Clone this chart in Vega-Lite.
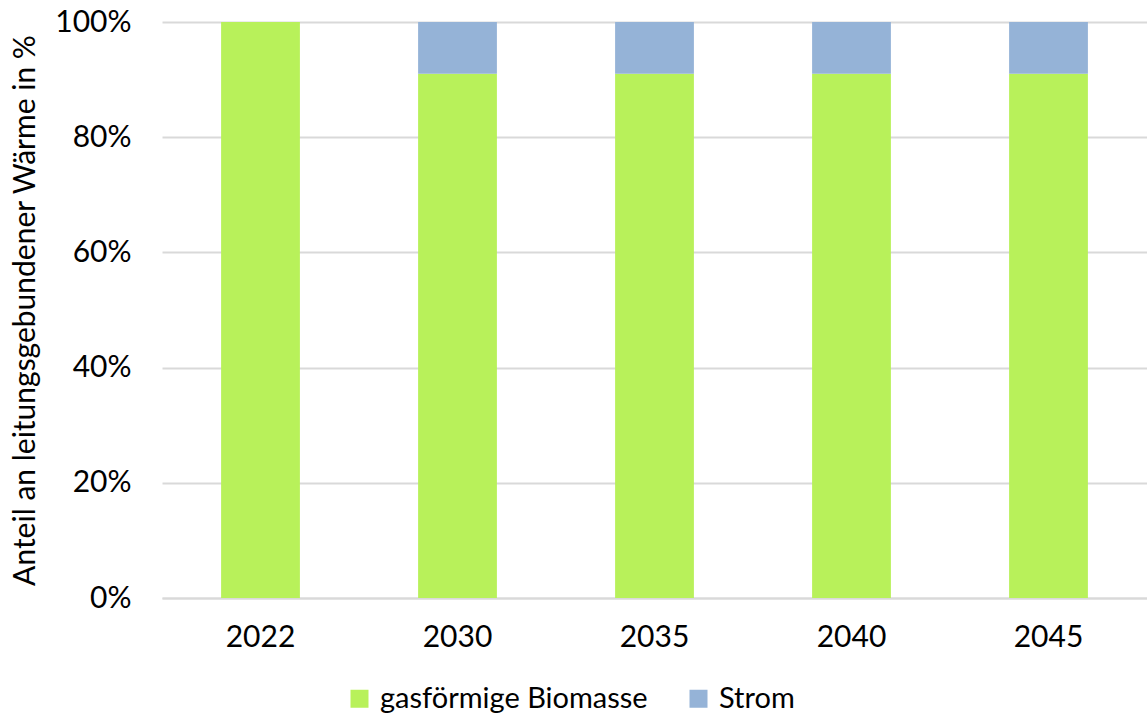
{
  "$schema": "https://vega.github.io/schema/vega-lite/v6.json",
  "width": 985,
  "height": 576,
  "padding": {"left": 162, "top": 22, "right": 0, "bottom": 119},
  "autosize": {"type": "none"},
  "background": "white",
  "config": {
    "font": "Lato",
    "view": {"stroke": null}
  },
  "data": {
    "values": [
      {"Jahr": "2022", "Energieträger": "gasförmige Biomasse", "Anteil": 1.0, "o": 1},
      {"Jahr": "2022", "Energieträger": "Strom", "Anteil": 0.0, "o": 2},
      {"Jahr": "2030", "Energieträger": "gasförmige Biomasse", "Anteil": 0.91, "o": 1},
      {"Jahr": "2030", "Energieträger": "Strom", "Anteil": 0.09, "o": 2},
      {"Jahr": "2035", "Energieträger": "gasförmige Biomasse", "Anteil": 0.91, "o": 1},
      {"Jahr": "2035", "Energieträger": "Strom", "Anteil": 0.09, "o": 2},
      {"Jahr": "2040", "Energieträger": "gasförmige Biomasse", "Anteil": 0.91, "o": 1},
      {"Jahr": "2040", "Energieträger": "Strom", "Anteil": 0.09, "o": 2},
      {"Jahr": "2045", "Energieträger": "gasförmige Biomasse", "Anteil": 0.91, "o": 1},
      {"Jahr": "2045", "Energieträger": "Strom", "Anteil": 0.09, "o": 2}
    ]
  },
  "mark": {"type": "bar"},
  "encoding": {
    "x": {
      "field": "Jahr",
      "type": "nominal",
      "scale": {"paddingInner": 0.6, "paddingOuter": 0.3},
      "axis": {
        "title": null,
        "labelAngle": 0,
        "labelFontSize": 30,
        "labelColor": "#000000",
        "labelPadding": 24,
        "ticks": false,
        "domainColor": "#D9D9D9",
        "domainWidth": 2
      }
    },
    "y": {
      "field": "Anteil",
      "type": "quantitative",
      "stack": "zero",
      "scale": {"domain": [0, 1], "nice": false},
      "axis": {
        "title": "Anteil an leitungsgebundener Wärme in %",
        "titleFontSize": 30,
        "titleFontWeight": "normal",
        "titleColor": "#000000",
        "titlePadding": 14,
        "format": ".0%",
        "values": [0, 0.2, 0.4, 0.6, 0.8, 1.0],
        "labelFontSize": 30,
        "labelColor": "#000000",
        "labelPadding": 31,
        "ticks": false,
        "domain": false,
        "gridColor": "#D9D9D9",
        "gridWidth": 2
      }
    },
    "color": {
      "field": "Energieträger",
      "type": "nominal",
      "scale": {
        "domain": ["gasförmige Biomasse", "Strom"],
        "range": ["#B8F15A", "#95B3D7"]
      },
      "legend": {
        "title": null,
        "orient": "none",
        "direction": "horizontal",
        "legendX": 183,
        "legendY": 662,
        "symbolType": "square",
        "symbolSize": 324,
        "symbolStrokeWidth": 0,
        "labelFontSize": 29,
        "labelLimit": 400,
        "labelColor": "#000000",
        "labelOffset": 6,
        "columnPadding": 36
      }
    },
    "order": {"field": "o", "type": "quantitative"}
  }
}
